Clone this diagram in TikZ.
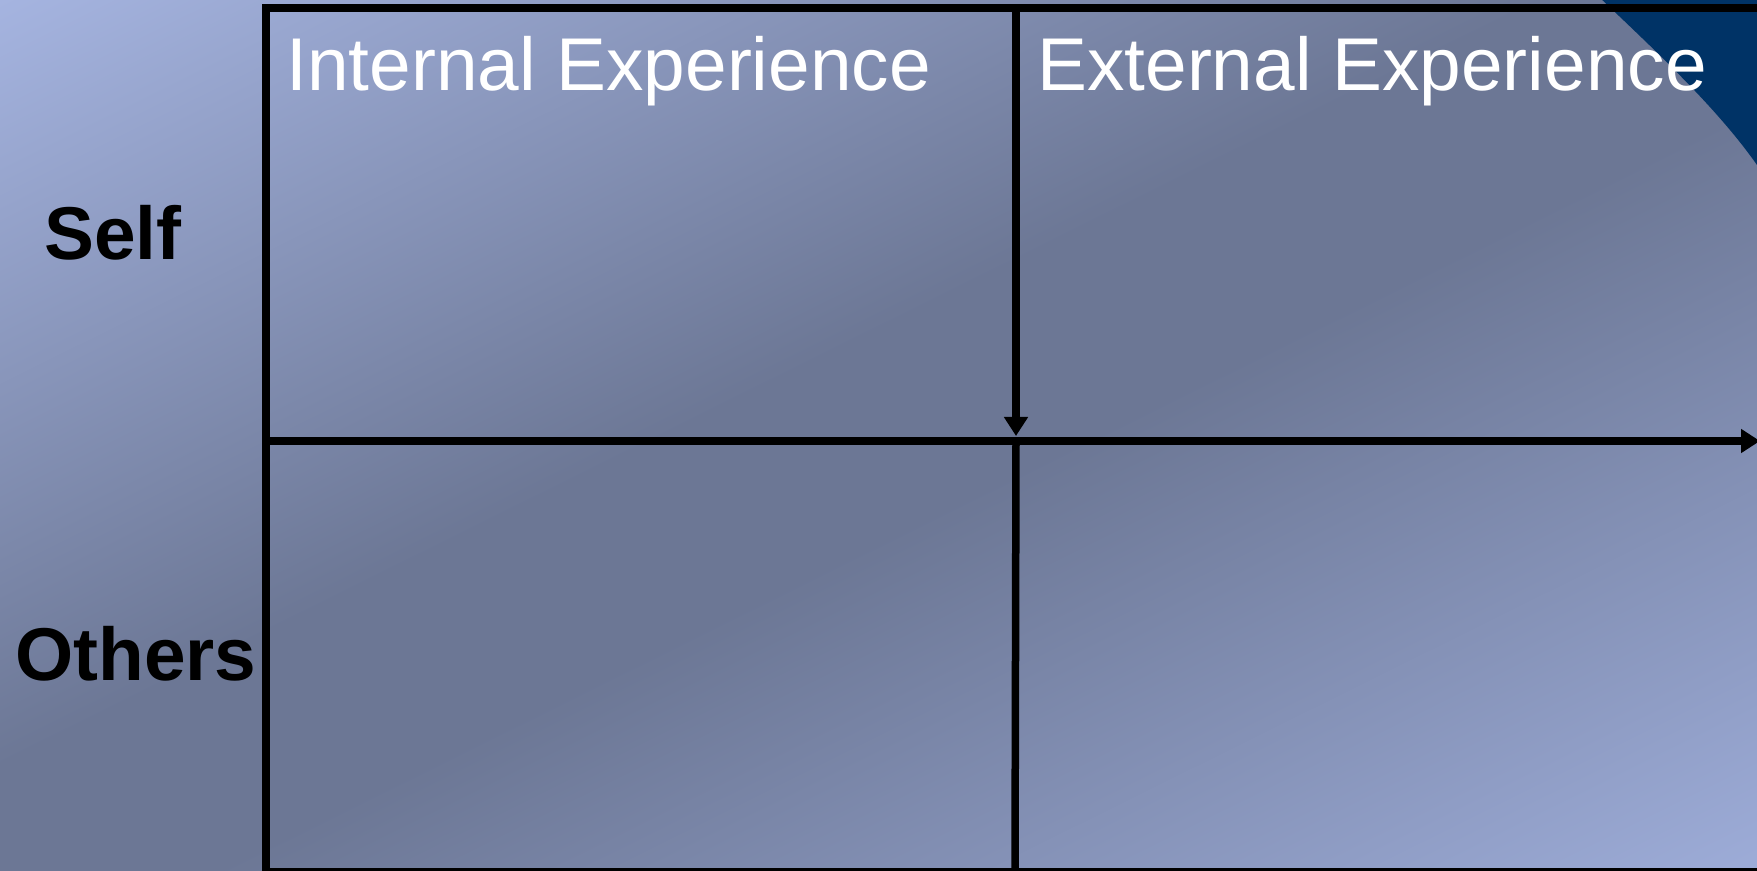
\documentclass[tikz,border=0pt]{standalone}
\usepackage{fontspec}
\setmainfont{Liberation Sans}
\usetikzlibrary{arrows.meta}
\definecolor{bgA}{RGB}{165,180,224}
\definecolor{bgB}{RGB}{108,119,149}
\definecolor{bgC}{RGB}{157,172,216}
\definecolor{navy}{RGB}{0,51,102}
\pgfdeclarehorizontalshading{bgshade}{100bp}{color(0bp)=(bgA); color(25bp)=(bgA); color(47bp)=(bgB); color(53bp)=(bgB); color(75bp)=(bgC); color(100bp)=(bgC)}
\begin{document}
\begin{tikzpicture}[x=0.5pt,y=-0.5pt,
  gridline/.style={line width=3.75pt, black},
  headtip/.style={-{Triangle[length=9.5pt,width=11.5pt]}},
  toplabel/.style={anchor=base west, inner sep=0pt, text=white, font=\fontsize{37.4}{44}\selectfont},
  sidelabel/.style={anchor=base west, inner sep=0pt, text=black, font=\fontsize{37.4}{44}\selectfont\bfseries}]
\useasboundingbox (0,0) rectangle (1757,871);
\begin{scope}
  \clip (0,0) rectangle (1757,871);
  \begin{scope}[transform canvas={cm={8.785,-4.355,8.785,4.355,(-439.25pt,-217.75pt)}}]
    \shade[shading=bgshade] (0pt,0pt) rectangle (100pt,100pt);
  \end{scope}
  \fill[navy] (1597,-5) .. controls (1648,44) and (1715,105) .. (1757,165) -- (1770,175) -- (1770,-5) -- cycle;
  % grid coordinates
  \coordinate (a1) at (266,8);
  \coordinate (a2) at (1016,8);
  \coordinate (a3) at (1770,8);
  \coordinate (b1) at (266,441);
  \coordinate (b2) at (1016,441);
  \coordinate (b2t) at (1016,436);
  \coordinate (bend) at (1760,441);
  \coordinate (c1) at (266,872);
  \coordinate (c2) at (1015,872);
  \coordinate (c3) at (1770,872);
  \draw[gridline] (b1) -- (a1) -- (a3);
  \draw[gridline] (b1) -- (c1) -- (c3);
  \draw[gridline] (b2) -- (c2);
  \draw[gridline, headtip] (a2) -- (b2t);
  \draw[gridline, headtip] (b1) -- (bend);
\end{scope}
\node[toplabel] (internal) at (286,91) {Internal Experience};
\node[toplabel] (external) at (1037,91) {External Experience};
\node[sidelabel] (self) at (44,260) {Self};
\node[sidelabel] (others) at (15,680) {Others};
\end{tikzpicture}
\end{document}
